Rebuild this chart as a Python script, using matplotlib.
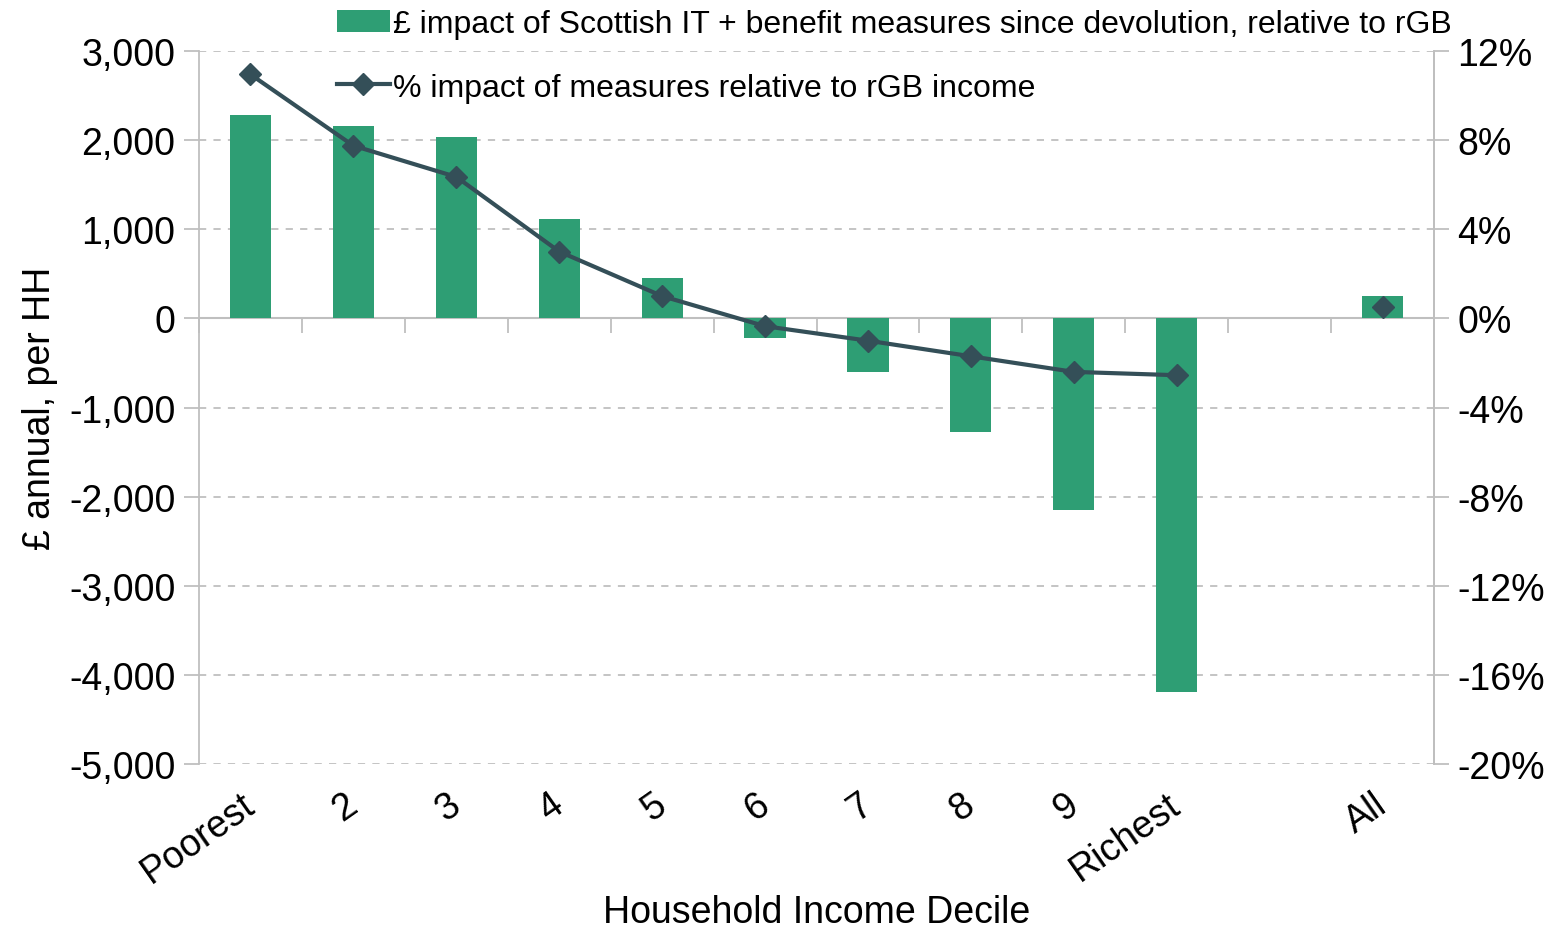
import numpy as np
import matplotlib.pyplot as plt
import matplotlib.transforms as mtransforms
from matplotlib.ticker import FuncFormatter

plt.rcParams['font.family'] = ['Liberation Sans', 'DejaVu Sans']

# Data
labels = ["Poorest", "2", "3", "4", "5", "6", "7", "8", "9", "Richest", "", "All"]
impact_gbp = [2280, 2160, 2030, 1110, 450, -215, -605, -1270, -2155, -4190, np.nan, 255]
impact_pct = [10.95, 7.75, 6.35, 3.0, 1.0, -0.35, -1.0, -1.7, -2.4, -2.55, np.nan, 0.5]

bar_col = "#2E9E74"
line_col = "#344F58"
grey = "#BFBFBF"

fig = plt.figure(figsize=(15.66, 9.29), dpi=100)
ax = fig.add_axes([0.1271, 0.1765, 0.7886, 0.7675])
x = np.arange(len(labels))

ax.bar(x, impact_gbp, width=0.4, color=bar_col, zorder=2,
       label="£ impact of Scottish IT + benefit measures since devolution, relative to rGB")
ax.set_xlim(-0.5, len(labels) - 0.5)
ax.set_ylim(-5000, 3000)
ax.set_yticks(np.arange(-5000, 3001, 1000))
ax.yaxis.set_major_formatter(FuncFormatter(lambda v, p: f"{int(v):,}"))
ax.grid(axis="y", color=grey, linestyle=(0, (4, 4)), linewidth=1.3, zorder=0)
ax.axhline(0, color=grey, linewidth=1.5, zorder=1)

for s in ["top", "bottom"]:
    ax.spines[s].set_visible(False)
for s in ["left", "right"]:
    ax.spines[s].set_color(grey)
    ax.spines[s].set_linewidth(1.3)

ax.tick_params(axis="y", length=11, color=grey, width=1.3, labelsize=27, pad=6)
ax.set_xticks(x)
ax.set_xticklabels(labels, rotation=35, ha="right", rotation_mode="anchor", fontsize=27)
ax.tick_params(axis="x", length=0, pad=16)
shift = mtransforms.ScaledTranslation(-10 / 100, 0, fig.dpi_scale_trans)
for t in ax.get_xticklabels():
    t.set_transform(t.get_transform() + shift)
ax.set_xlabel("Household Income Decile", fontsize=27, labelpad=3)
ax.set_ylabel("£ annual, per HH", fontsize=27, labelpad=8)

# boundary ticks on the zero line
zx = ax.secondary_xaxis(5000 / 8000)
zx.set_xticks(np.arange(-0.5, len(labels), 1.0))
zx.tick_params(length=11, color=grey, width=1.3, direction="out", labelbottom=False,
               labeltop=False, bottom=True, top=False)
zx.spines["bottom"].set_visible(False)
zx.spines["top"].set_visible(False)
zx.xaxis.set_ticks_position("bottom")
zx.set_xticklabels([])

ax2 = ax.twinx()
ax2.plot(x, impact_pct, color=line_col, linewidth=3, marker="D", markersize=11,
         zorder=3, label="% impact of measures relative to rGB income")
ax2.set_ylim(-20, 12)
ax2.set_yticks(np.arange(-20, 13, 4))
ax2.yaxis.set_major_formatter(FuncFormatter(lambda v, p: f"{int(v)}%"))
ax2.tick_params(axis="y", length=11, color=grey, width=1.3, labelsize=27, pad=6)
for s in ["top", "bottom", "left"]:
    ax2.spines[s].set_visible(False)
ax2.spines["right"].set_color(grey)
ax2.spines["right"].set_linewidth(1.3)

h1, l1 = ax.get_legend_handles_labels()
h2, l2 = ax2.get_legend_handles_labels()
fig.legend(h1 + h2, l1 + l2, loc="upper left", bbox_to_anchor=(0.207, 1.003),
           frameon=False, fontsize=23, handlelength=1.65, handletextpad=0.12,
           labelspacing=1.05, borderaxespad=0)

fig.savefig("out.png", dpi=100)
